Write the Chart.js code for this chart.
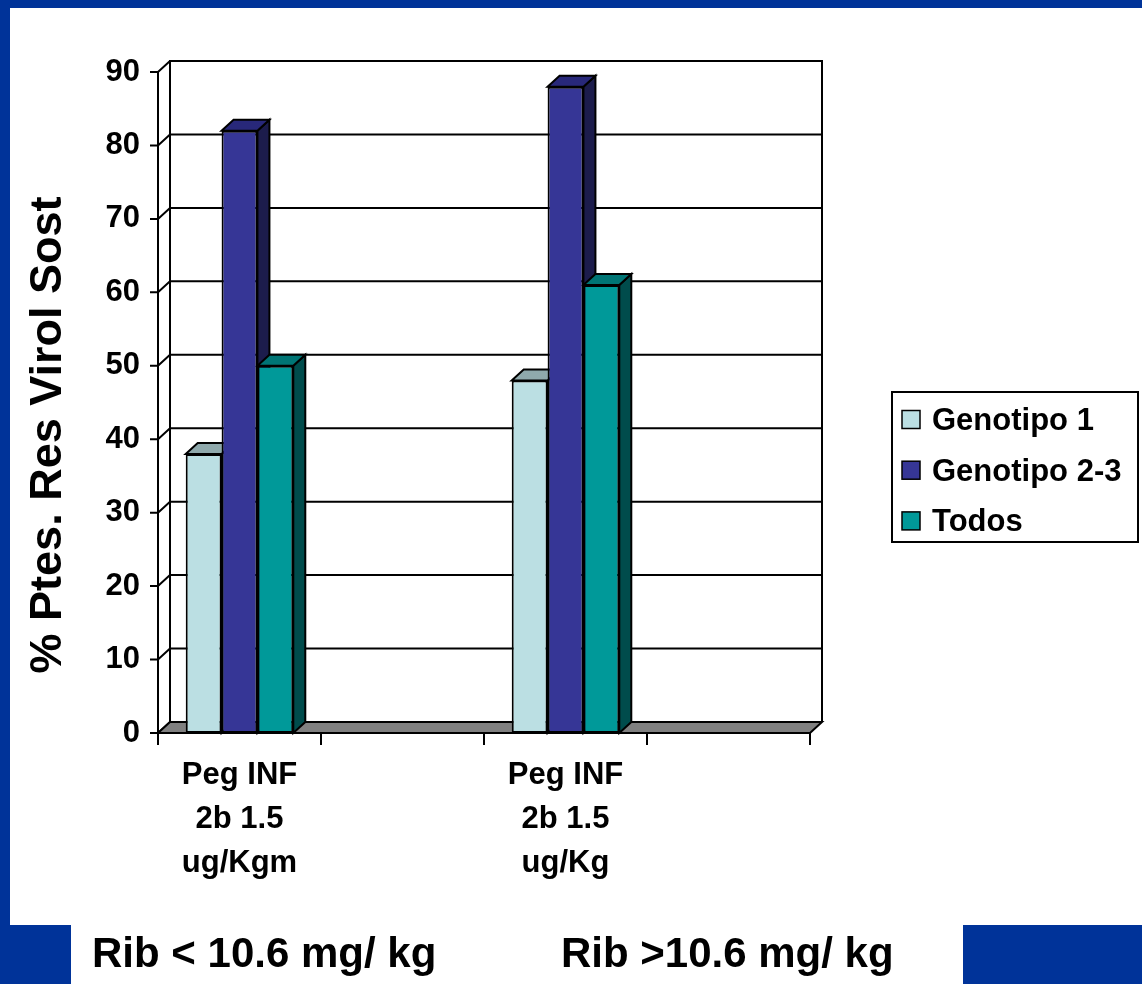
<!DOCTYPE html>
<html lang="es">
<head>
  <meta charset="UTF-8" />
  <title>Respuesta viral sostenida</title>
  <script src="https://cdn.jsdelivr.net/npm/chart.js"></script>
  <style>
    body { margin: 0; background: #fff; font-family: "Liberation Sans", Arial, sans-serif; }
    #page { position: relative; width: 1142px; height: 984px; overflow: hidden; background: #fff; }
    .blue { position: absolute; background: #003399; }
    canvas { position: absolute; left: 0; top: 0; }
  </style>
</head>
<body>
<div id="page">
  <div class="blue" style="left:0;top:0;width:1142px;height:8px"></div>
  <div class="blue" style="left:0;top:0;width:10px;height:925px"></div>
  <div class="blue" style="left:0;top:925px;width:71px;height:59px"></div>
  <div class="blue" style="left:963px;top:925px;width:179px;height:59px"></div>
  <canvas id="chart" width="1142" height="984"></canvas>
</div>

<script>
  // data
  const categories = [['Peg INF', '2b 1.5', 'ug/Kgm'], '', ['Peg INF', '2b 1.5', 'ug/Kg'], ''];
  const genotipo1 = [38, null, 48, null];
  const genotipo23 = [82, null, 88, null];
  const todos = [50, null, 61, null];
  const seriesNames = ['Genotipo 1', 'Genotipo 2-3', 'Todos'];
  const yTitle = '% Ptes. Res Virol Sost';
  const bottomNotes = ['Rib < 10.6 mg/ kg', 'Rib >10.6 mg/ kg'];

  const FONT = '"Liberation Sans", Arial, sans-serif';
  const DX = 12, DY = 11;   // 3d depth
  const faces = [
    { front: '#bbdfe3', top: '#8fa9ac', side: '#7f9a9d' },
    { front: '#363696', top: '#28287a', side: '#1c1c4c' },
    { front: '#009999', top: '#007575', side: '#004c4c' }
  ];

  const box3d = {
    id: 'box3d',
    beforeDatasetsDraw(chart) {
      const ctx = chart.ctx;
      const x = chart.scales.x, y = chart.scales.y;
      const L = x.left, R = x.right, B = y.bottom;
      ctx.save();
      ctx.lineJoin = 'miter';

      // back wall grid + connectors + tick marks
      y.ticks.forEach(t => {
        const py = y.getPixelForValue(t.value);
        ctx.strokeStyle = '#000';
        ctx.lineWidth = 2;
        ctx.beginPath();
        ctx.moveTo(L - 8, py); ctx.lineTo(L, py);
        ctx.lineTo(L + DX, py - DY);
        if (t.value > 0) ctx.lineTo(R + DX, py - DY);
        ctx.stroke();
      });

      // wall frame
      const topY = y.getPixelForValue(90) - DY;
      ctx.lineWidth = 2;
      ctx.beginPath();
      ctx.moveTo(L + DX, B - DY); ctx.lineTo(L + DX, topY);
      ctx.lineTo(R + DX, topY); ctx.lineTo(R + DX, B - DY);
      ctx.stroke();

      // floor
      ctx.fillStyle = '#808080';
      ctx.beginPath();
      ctx.moveTo(L, B); ctx.lineTo(R, B); ctx.lineTo(R + DX, B - DY); ctx.lineTo(L + DX, B - DY);
      ctx.closePath();
      ctx.fill(); ctx.stroke();

      // front y axis
      ctx.beginPath();
      ctx.moveTo(L, y.getPixelForValue(90)); ctx.lineTo(L, B);
      ctx.stroke();

      // x ticks at category edges
      const step = x.getPixelForValue(1) - x.getPixelForValue(0);
      for (let i = 0; i <= categories.length; i++) {
        const px = x.getPixelForValue(0) - step / 2 + i * step;
        ctx.beginPath(); ctx.moveTo(px, B); ctx.lineTo(px, B + 12); ctx.stroke();
      }

      // bar tops and sides
      chart.data.datasets.forEach((ds, di) => {
        const meta = chart.getDatasetMeta(di);
        meta.data.forEach((bar, i) => {
          if (ds.data[i] == null) return;
          const p = bar.getProps(['x', 'y', 'base', 'width'], true);
          const l = p.x - p.width / 2, r = p.x + p.width / 2;
          ctx.fillStyle = faces[di].side;
          ctx.beginPath();
          ctx.moveTo(r, p.y); ctx.lineTo(r + DX, p.y - DY); ctx.lineTo(r + DX, p.base - DY); ctx.lineTo(r, p.base);
          ctx.closePath(); ctx.fill(); ctx.stroke();
          ctx.fillStyle = faces[di].top;
          ctx.beginPath();
          ctx.moveTo(l, p.y); ctx.lineTo(l + DX, p.y - DY); ctx.lineTo(r + DX, p.y - DY); ctx.lineTo(r, p.y);
          ctx.closePath(); ctx.fill(); ctx.stroke();
        });
      });
      ctx.restore();
    },
    afterDraw(chart) {
      const ctx = chart.ctx;
      ctx.save();
      ctx.fillStyle = '#000';

      // y title
      ctx.font = 'bold 45px ' + FONT;
      ctx.translate(49, 435);
      ctx.rotate(-Math.PI / 2);
      ctx.textAlign = 'center';
      ctx.textBaseline = 'middle';
      ctx.fillText(yTitle, 0, 0);
      ctx.setTransform(1, 0, 0, 1, 0, 0);

      // legend
      ctx.strokeStyle = '#000';
      ctx.lineWidth = 2;
      ctx.strokeRect(892, 392, 246, 150);
      ctx.font = 'bold 31px ' + FONT;
      ctx.textAlign = 'left';
      chart.data.datasets.forEach((ds, i) => {
        const cy = 419.5 + i * 50.7;
        ctx.fillStyle = ds.backgroundColor;
        ctx.fillRect(902, cy - 9, 18, 18);
        ctx.lineWidth = 1.5;
        ctx.strokeRect(902, cy - 9, 18, 18);
        ctx.fillStyle = '#000';
        ctx.fillText(ds.label, 932, cy + 2);
      });

      // notes under the chart
      ctx.font = 'bold 42px ' + FONT;
      ctx.textBaseline = 'alphabetic';
      ctx.fillText(bottomNotes[0], 92, 967);
      ctx.fillText(bottomNotes[1], 561, 967);
      ctx.restore();
    }
  };

  const values = [genotipo1, genotipo23, todos];

  new Chart(document.getElementById('chart'), {
    type: 'bar',
    data: {
      labels: categories,
      datasets: values.map((v, i) => ({
        label: seriesNames[i],
        data: v,
        backgroundColor: faces[i].front,
        borderColor: '#000',
        borderWidth: 2,
        borderSkipped: false
      }))
    },
    options: {
      responsive: false,
      devicePixelRatio: 1,
      animation: false,
      categoryPercentage: 0.66,
      barPercentage: 1,
      layout: { padding: { left: 0, right: 332, top: 72, bottom: 0 } },
      plugins: { legend: { display: false }, tooltip: { enabled: false } },
      scales: {
        x: {
          grid: { display: false, drawTicks: false },
          border: { display: false },
          ticks: {
            color: '#000',
            padding: 20,
            maxRotation: 0,
            autoSkip: false,
            font: { family: FONT, size: 31, weight: 'bold', lineHeight: 1.42 }
          },
          afterFit(s) { s.height = 251; }
        },
        y: {
          min: 0,
          max: 90,
          grid: { display: false, drawTicks: false },
          border: { display: false },
          ticks: {
            stepSize: 10,
            color: '#000',
            padding: 18,
            font: { family: FONT, size: 31, weight: 'bold' }
          },
          afterFit(s) { s.width = 158; }
        }
      }
    },
    plugins: [box3d]
  });
</script>
</body>
</html>
